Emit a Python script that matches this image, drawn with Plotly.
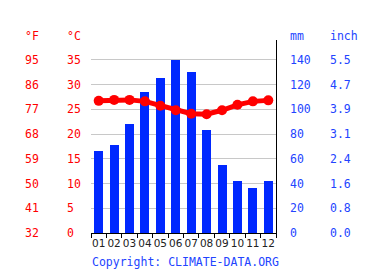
import plotly.graph_objects as go

months = ["01", "02", "03", "04", "05", "06", "07", "08", "09", "10", "11", "12"]
precip_mm = [66, 71, 88, 114, 125, 140, 130, 83, 55, 42, 36, 42]
temp_c = [26.7, 26.9, 26.9, 26.6, 25.7, 24.8, 24.1, 24.0, 24.8, 25.9, 26.6, 26.8]

c_ticks = [0, 5, 10, 15, 20, 25, 30, 35]
f_labels = ["32", "41", "50", "59", "68", "77", "86", "95"]
c_labels = ["0", "5", "10", "15", "20", "25", "30", "35"]
mm_ticks = [0, 20, 40, 60, 80, 100, 120, 140]
mm_labels = ["0", "20", "40", "60", "80", "100", "120", "140"]
inch_labels = ["0.0", "0.8", "1.6", "2.4", "3.1", "3.9", "4.7", "5.5"]

W, H = 365, 273
RED = "#ff0000"
BLUE = "#0028ff"
TXTBLUE = "#2244ff"
MONO = "DejaVu Sans Mono"
C_MAX = 39
MM_MAX = C_MAX * 4

fig = go.Figure()
fig.add_trace(go.Bar(x=months, y=precip_mm, marker=dict(color=BLUE, line=dict(width=0)),
                     width=0.58, yaxis="y", showlegend=False))
fig.add_trace(go.Scatter(x=months, y=temp_c, mode="lines+markers", yaxis="y2",
                         line=dict(color=RED, width=5),
                         marker=dict(color=RED, size=10), showlegend=False))

fig.update_layout(
    width=W, height=H,
    margin=dict(l=0, r=0, t=40, b=40, autoexpand=False),
    paper_bgcolor="white", plot_bgcolor="white",
    bargap=0,
    xaxis=dict(domain=[91 / W, 276 / W], type="category", showline=True, linecolor="black",
               linewidth=1, ticks="outside", tickson="boundaries", ticklen=4, tickcolor="black",
               tickangle=0, automargin=False,
               tickfont=dict(family="DejaVu Sans", size=10.5, color="#222222"),
               showgrid=False, zeroline=False, range=[-0.5, 11.5]),
    yaxis=dict(range=[0, MM_MAX], side="right", showline=True, linecolor="black", linewidth=1,
               showgrid=True, gridcolor="#c8c8c8", gridwidth=1, tickvals=mm_ticks[1:],
               showticklabels=False, ticks="", zeroline=False, automargin=False),
    yaxis2=dict(overlaying="y", range=[0, C_MAX], showgrid=False, showticklabels=False,
                showline=False, zeroline=False, ticks="", automargin=False),
)

def add_labels(xpx, vals, texts, yref, color):
    for v, t in zip(vals, texts):
        fig.add_annotation(x=xpx / W, y=v, xref="paper", yref=yref, text=t, showarrow=False,
                           xanchor="left", yanchor="middle",
                           font=dict(family=MONO, size=11.5, color=color))

add_labels(23, c_ticks, f_labels, "y2", RED)
add_labels(65, c_ticks, c_labels, "y2", RED)
add_labels(288, mm_ticks, mm_labels, "y", TXTBLUE)
add_labels(328, mm_ticks, inch_labels, "y", TXTBLUE)

hy = 1 + 4 / 193
for x, t, col in [(23, "°F", RED), (65, "°C", RED), (288, "mm", TXTBLUE), (328, "inch", TXTBLUE)]:
    fig.add_annotation(x=x / W, y=hy, xref="paper", yref="paper", text=t, showarrow=False,
                       xanchor="left", yanchor="middle",
                       font=dict(family=MONO, size=11.5, color=col))
fig.add_annotation(x=90 / W, y=-29 / 193, xref="paper", yref="paper",
                   text="Copyright: CLIMATE-DATA.ORG", showarrow=False,
                   xanchor="left", yanchor="middle",
                   font=dict(family=MONO, size=11.5, color=TXTBLUE))

fig.write_html("out.html")
